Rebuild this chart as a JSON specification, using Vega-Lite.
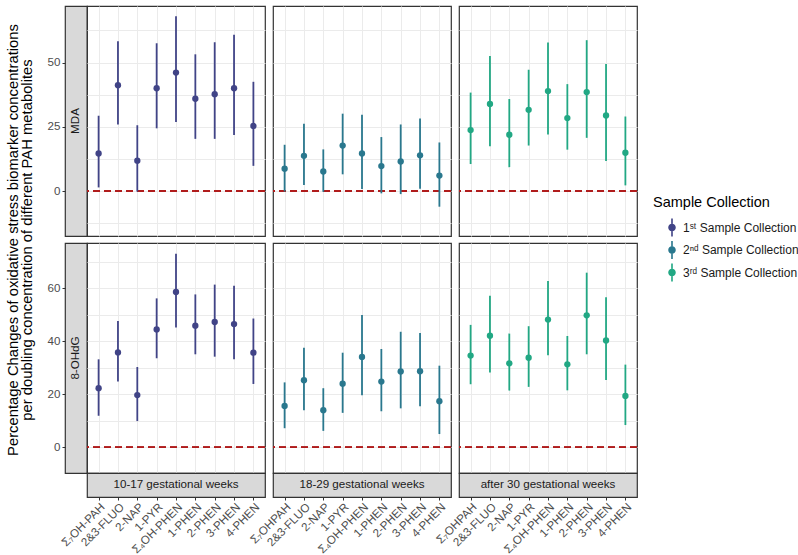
{
  "$schema": "https://vega.github.io/schema/vega-lite/v6.json",
  "padding": {"left": 4, "top": 5, "right": 5, "bottom": 5},
  "datasets": {
    "d": [
      {"biomarker": "MDA", "period": "10-17 gestational weeks", "collection": "1ˢᵗ Sample Collection", "metabolite": "Σ₇OH-PAH", "est": 14.6, "lo": 1.4, "hi": 29.3},
      {"biomarker": "MDA", "period": "10-17 gestational weeks", "collection": "1ˢᵗ Sample Collection", "metabolite": "2&3-FLUO", "est": 41.2, "lo": 25.9, "hi": 58.3},
      {"biomarker": "MDA", "period": "10-17 gestational weeks", "collection": "1ˢᵗ Sample Collection", "metabolite": "2-NAP", "est": 11.8, "lo": -0.2, "hi": 25.6},
      {"biomarker": "MDA", "period": "10-17 gestational weeks", "collection": "1ˢᵗ Sample Collection", "metabolite": "1-PYR", "est": 40.0, "lo": 24.4, "hi": 57.5},
      {"biomarker": "MDA", "period": "10-17 gestational weeks", "collection": "1ˢᵗ Sample Collection", "metabolite": "Σ₄OH-PHEN", "est": 46.1, "lo": 26.9, "hi": 68.0},
      {"biomarker": "MDA", "period": "10-17 gestational weeks", "collection": "1ˢᵗ Sample Collection", "metabolite": "1-PHEN", "est": 35.9, "lo": 20.3, "hi": 53.2},
      {"biomarker": "MDA", "period": "10-17 gestational weeks", "collection": "1ˢᵗ Sample Collection", "metabolite": "2-PHEN", "est": 37.7, "lo": 20.3, "hi": 57.9},
      {"biomarker": "MDA", "period": "10-17 gestational weeks", "collection": "1ˢᵗ Sample Collection", "metabolite": "3-PHEN", "est": 40.0, "lo": 21.8, "hi": 60.8},
      {"biomarker": "MDA", "period": "10-17 gestational weeks", "collection": "1ˢᵗ Sample Collection", "metabolite": "4-PHEN", "est": 25.3, "lo": 9.8, "hi": 42.5},

      {"biomarker": "MDA", "period": "18-29 gestational weeks", "collection": "2ⁿᵈ Sample Collection", "metabolite": "Σ₇OHPAH", "est": 8.7, "lo": -0.2, "hi": 18.0},
      {"biomarker": "MDA", "period": "18-29 gestational weeks", "collection": "2ⁿᵈ Sample Collection", "metabolite": "2&3-FLUO", "est": 13.7, "lo": 2.3, "hi": 26.2},
      {"biomarker": "MDA", "period": "18-29 gestational weeks", "collection": "2ⁿᵈ Sample Collection", "metabolite": "2-NAP", "est": 7.6, "lo": -0.3, "hi": 16.2},
      {"biomarker": "MDA", "period": "18-29 gestational weeks", "collection": "2ⁿᵈ Sample Collection", "metabolite": "1-PYR", "est": 17.7, "lo": 6.5, "hi": 30.1},
      {"biomarker": "MDA", "period": "18-29 gestational weeks", "collection": "2ⁿᵈ Sample Collection", "metabolite": "Σ₄OH-PHEN", "est": 14.6, "lo": 0.8, "hi": 29.7},
      {"biomarker": "MDA", "period": "18-29 gestational weeks", "collection": "2ⁿᵈ Sample Collection", "metabolite": "1-PHEN", "est": 9.7, "lo": -0.9, "hi": 21.0},
      {"biomarker": "MDA", "period": "18-29 gestational weeks", "collection": "2ⁿᵈ Sample Collection", "metabolite": "2-PHEN", "est": 11.5, "lo": -1.2, "hi": 25.9},
      {"biomarker": "MDA", "period": "18-29 gestational weeks", "collection": "2ⁿᵈ Sample Collection", "metabolite": "3-PHEN", "est": 13.9, "lo": 0.9, "hi": 28.2},
      {"biomarker": "MDA", "period": "18-29 gestational weeks", "collection": "2ⁿᵈ Sample Collection", "metabolite": "4-PHEN", "est": 6.0, "lo": -6.1, "hi": 18.9},

      {"biomarker": "MDA", "period": "after 30 gestational weeks", "collection": "3ʳᵈ Sample Collection", "metabolite": "Σ₇OHPAH", "est": 23.7, "lo": 10.5, "hi": 38.3},
      {"biomarker": "MDA", "period": "after 30 gestational weeks", "collection": "3ʳᵈ Sample Collection", "metabolite": "2&3-FLUO", "est": 33.9, "lo": 17.4, "hi": 52.5},
      {"biomarker": "MDA", "period": "after 30 gestational weeks", "collection": "3ʳᵈ Sample Collection", "metabolite": "2-NAP", "est": 21.9, "lo": 9.3, "hi": 35.8},
      {"biomarker": "MDA", "period": "after 30 gestational weeks", "collection": "3ʳᵈ Sample Collection", "metabolite": "1-PYR", "est": 31.6, "lo": 17.7, "hi": 47.2},
      {"biomarker": "MDA", "period": "after 30 gestational weeks", "collection": "3ʳᵈ Sample Collection", "metabolite": "Σ₄OH-PHEN", "est": 38.9, "lo": 22.0, "hi": 57.8},
      {"biomarker": "MDA", "period": "after 30 gestational weeks", "collection": "3ʳᵈ Sample Collection", "metabolite": "1-PHEN", "est": 28.4, "lo": 16.1, "hi": 41.6},
      {"biomarker": "MDA", "period": "after 30 gestational weeks", "collection": "3ʳᵈ Sample Collection", "metabolite": "2-PHEN", "est": 38.5, "lo": 20.7, "hi": 58.7},
      {"biomarker": "MDA", "period": "after 30 gestational weeks", "collection": "3ʳᵈ Sample Collection", "metabolite": "3-PHEN", "est": 29.4, "lo": 11.7, "hi": 49.4},
      {"biomarker": "MDA", "period": "after 30 gestational weeks", "collection": "3ʳᵈ Sample Collection", "metabolite": "4-PHEN", "est": 14.9, "lo": 2.2, "hi": 29.0},

      {"biomarker": "8-OHdG", "period": "10-17 gestational weeks", "collection": "1ˢᵗ Sample Collection", "metabolite": "Σ₇OH-PAH", "est": 22.3, "lo": 11.9, "hi": 33.2},
      {"biomarker": "8-OHdG", "period": "10-17 gestational weeks", "collection": "1ˢᵗ Sample Collection", "metabolite": "2&3-FLUO", "est": 35.8, "lo": 24.8, "hi": 47.7},
      {"biomarker": "8-OHdG", "period": "10-17 gestational weeks", "collection": "1ˢᵗ Sample Collection", "metabolite": "2-NAP", "est": 19.7, "lo": 9.9, "hi": 30.3},
      {"biomarker": "8-OHdG", "period": "10-17 gestational weeks", "collection": "1ˢᵗ Sample Collection", "metabolite": "1-PYR", "est": 44.5, "lo": 33.6, "hi": 56.2},
      {"biomarker": "8-OHdG", "period": "10-17 gestational weeks", "collection": "1ˢᵗ Sample Collection", "metabolite": "Σ₄OH-PHEN", "est": 58.6, "lo": 45.2, "hi": 73.0},
      {"biomarker": "8-OHdG", "period": "10-17 gestational weeks", "collection": "1ˢᵗ Sample Collection", "metabolite": "1-PHEN", "est": 45.9, "lo": 35.1, "hi": 57.7},
      {"biomarker": "8-OHdG", "period": "10-17 gestational weeks", "collection": "1ˢᵗ Sample Collection", "metabolite": "2-PHEN", "est": 47.3, "lo": 34.2, "hi": 61.4},
      {"biomarker": "8-OHdG", "period": "10-17 gestational weeks", "collection": "1ˢᵗ Sample Collection", "metabolite": "3-PHEN", "est": 46.5, "lo": 33.2, "hi": 61.0},
      {"biomarker": "8-OHdG", "period": "10-17 gestational weeks", "collection": "1ˢᵗ Sample Collection", "metabolite": "4-PHEN", "est": 35.7, "lo": 23.9, "hi": 48.6},

      {"biomarker": "8-OHdG", "period": "18-29 gestational weeks", "collection": "2ⁿᵈ Sample Collection", "metabolite": "Σ₇OHPAH", "est": 15.6, "lo": 7.2, "hi": 24.5},
      {"biomarker": "8-OHdG", "period": "18-29 gestational weeks", "collection": "2ⁿᵈ Sample Collection", "metabolite": "2&3-FLUO", "est": 25.3, "lo": 14.0, "hi": 37.6},
      {"biomarker": "8-OHdG", "period": "18-29 gestational weeks", "collection": "2ⁿᵈ Sample Collection", "metabolite": "2-NAP", "est": 14.0, "lo": 6.2, "hi": 22.3},
      {"biomarker": "8-OHdG", "period": "18-29 gestational weeks", "collection": "2ⁿᵈ Sample Collection", "metabolite": "1-PYR", "est": 24.0, "lo": 13.0, "hi": 35.7},
      {"biomarker": "8-OHdG", "period": "18-29 gestational weeks", "collection": "2ⁿᵈ Sample Collection", "metabolite": "Σ₄OH-PHEN", "est": 34.1, "lo": 19.6, "hi": 49.9},
      {"biomarker": "8-OHdG", "period": "18-29 gestational weeks", "collection": "2ⁿᵈ Sample Collection", "metabolite": "1-PHEN", "est": 24.8, "lo": 13.6, "hi": 37.1},
      {"biomarker": "8-OHdG", "period": "18-29 gestational weeks", "collection": "2ⁿᵈ Sample Collection", "metabolite": "2-PHEN", "est": 28.6, "lo": 14.7, "hi": 43.6},
      {"biomarker": "8-OHdG", "period": "18-29 gestational weeks", "collection": "2ⁿᵈ Sample Collection", "metabolite": "3-PHEN", "est": 28.7, "lo": 15.5, "hi": 43.1},
      {"biomarker": "8-OHdG", "period": "18-29 gestational weeks", "collection": "2ⁿᵈ Sample Collection", "metabolite": "4-PHEN", "est": 17.4, "lo": 5.0, "hi": 30.8},

      {"biomarker": "8-OHdG", "period": "after 30 gestational weeks", "collection": "3ʳᵈ Sample Collection", "metabolite": "Σ₇OHPAH", "est": 34.6, "lo": 23.8, "hi": 46.2},
      {"biomarker": "8-OHdG", "period": "after 30 gestational weeks", "collection": "3ʳᵈ Sample Collection", "metabolite": "2&3-FLUO", "est": 42.1, "lo": 28.2, "hi": 57.2},
      {"biomarker": "8-OHdG", "period": "after 30 gestational weeks", "collection": "3ʳᵈ Sample Collection", "metabolite": "2-NAP", "est": 31.7, "lo": 21.4, "hi": 42.9},
      {"biomarker": "8-OHdG", "period": "after 30 gestational weeks", "collection": "3ʳᵈ Sample Collection", "metabolite": "1-PYR", "est": 33.8, "lo": 22.8, "hi": 45.7},
      {"biomarker": "8-OHdG", "period": "after 30 gestational weeks", "collection": "3ʳᵈ Sample Collection", "metabolite": "Σ₄OH-PHEN", "est": 48.2, "lo": 34.7, "hi": 62.8},
      {"biomarker": "8-OHdG", "period": "after 30 gestational weeks", "collection": "3ʳᵈ Sample Collection", "metabolite": "1-PHEN", "est": 31.3, "lo": 21.5, "hi": 42.0},
      {"biomarker": "8-OHdG", "period": "after 30 gestational weeks", "collection": "3ʳᵈ Sample Collection", "metabolite": "2-PHEN", "est": 49.8, "lo": 35.1, "hi": 65.9},
      {"biomarker": "8-OHdG", "period": "after 30 gestational weeks", "collection": "3ʳᵈ Sample Collection", "metabolite": "3-PHEN", "est": 40.3, "lo": 25.4, "hi": 56.6},
      {"biomarker": "8-OHdG", "period": "after 30 gestational weeks", "collection": "3ʳᵈ Sample Collection", "metabolite": "4-PHEN", "est": 19.4, "lo": 8.4, "hi": 31.2}
    ]
  },
  "data": {"name": "d"},
  "columns": 6,
  "spacing": {"row": 0, "column": 0},
  "bounds": "flush",
  "align": "each",
  "resolve": {"scale": {"x": "independent", "y": "independent", "color": "shared"}, "axis": {"x": "independent", "y": "independent"}, "legend": {"color": "shared"}},
  "concat": [
    {
      "width": 22, "height": 230,
      "view": {"fill": "#d9d9d9", "stroke": "#333333", "strokeWidth": 1.2},
      "layer": [
        {"transform": [{"filter": "datum.biomarker === 'MDA'"}],
         "mark": {"type": "point", "opacity": 0},
         "encoding": {"y": {"field": "est", "type": "quantitative", "scale": {"domain": [-17.5, 72], "nice": false, "zero": false},
           "axis": {"values": [0, 25, 50], "grid": false, "domain": false, "ticks": true, "labelPadding": 2,
             "title": "Percentage Changes of oxidative stress biomarker concentrations",
             "titleX": -52, "titleY": 233.5, "titleAngle": 270, "titleAlign": "center", "titleBaseline": "middle"}}}},
        {"data": {"values": [{"biomarker": "MDA"}]},
         "mark": {"type": "text", "angle": 270, "fontSize": 11.6, "color": "#1a1a1a"},
         "encoding": {"text": {"field": "biomarker"}}}
      ]
    },
    {
      "width": 178, "height": 230,
      "transform": [{"filter": "datum.biomarker === 'MDA' && datum.period === '10-17 gestational weeks'"}],
      "layer": [
        {"mark": {"type": "rule", "color": "#b01c1c", "strokeDash": [7, 4], "strokeWidth": 1.2},
         "encoding": {"y": {"datum": 0, "type": "quantitative", "scale": {"domain": [-17.5, 72], "nice": false, "zero": false}, "axis": {"values": [-12.5, 0, 12.5, 25, 37.5, 50, 62.5], "grid": true, "labels": false, "ticks": false, "domain": false, "title": null}}}},
        {"mark": {"type": "point", "filled": true, "size": 40, "opacity": 1},
         "encoding": {
           "x": {"field": "metabolite", "type": "nominal", "scale": {"type": "point", "padding": 0.6, "domain": ["Σ₇OH-PAH", "2&3-FLUO", "2-NAP", "1-PYR", "Σ₄OH-PHEN", "1-PHEN", "2-PHEN", "3-PHEN", "4-PHEN"]}, "axis": {"grid": true, "labels": false, "ticks": false, "domain": false, "title": null}},
           "y": {"field": "est", "type": "quantitative", "scale": {"domain": [-17.5, 72], "nice": false, "zero": false}, "axis": {"values": [-12.5, 0, 12.5, 25, 37.5, 50, 62.5], "grid": true, "labels": false, "ticks": false, "domain": false, "title": null}},
           "color": {"field": "collection", "type": "nominal", "scale": {"domain": ["1ˢᵗ Sample Collection", "2ⁿᵈ Sample Collection", "3ʳᵈ Sample Collection"], "range": ["#414487", "#2a788e", "#22a884"]},
             "legend": {"orient": "none", "legendX": 588, "legendY": 190, "title": "Sample Collection", "symbolType": "M-0.42,0A0.42,0.42 0 1,0 0.42,0A0.42,0.42 0 1,0 -0.42,0Z M-0.09,-1H0.09V-0.42H-0.09Z M-0.09,0.42H0.09V1H-0.09Z", "symbolSize": 324, "symbolStrokeWidth": 0, "symbolOffset": 10, "labelOffset": 2, "rowPadding": 4.5, "titlePadding": 8}}}},
        {"mark": {"type": "rule", "strokeWidth": 1.8},
         "encoding": {
           "x": {"field": "metabolite", "type": "nominal", "scale": {"type": "point", "padding": 0.6, "domain": ["Σ₇OH-PAH", "2&3-FLUO", "2-NAP", "1-PYR", "Σ₄OH-PHEN", "1-PHEN", "2-PHEN", "3-PHEN", "4-PHEN"]}, "axis": {"grid": true, "labels": false, "ticks": false, "domain": false, "title": null}},
           "y": {"field": "lo", "type": "quantitative", "scale": {"domain": [-17.5, 72], "nice": false, "zero": false}, "axis": {"values": [-12.5, 0, 12.5, 25, 37.5, 50, 62.5], "grid": true, "labels": false, "ticks": false, "domain": false, "title": null}},
           "y2": {"field": "hi"},
           "color": {"field": "collection", "type": "nominal", "scale": {"domain": ["1ˢᵗ Sample Collection", "2ⁿᵈ Sample Collection", "3ʳᵈ Sample Collection"], "range": ["#414487", "#2a788e", "#22a884"]},
             "legend": {"orient": "none", "legendX": 588, "legendY": 190, "title": "Sample Collection", "symbolType": "M-0.42,0A0.42,0.42 0 1,0 0.42,0A0.42,0.42 0 1,0 -0.42,0Z M-0.09,-1H0.09V-0.42H-0.09Z M-0.09,0.42H0.09V1H-0.09Z", "symbolSize": 324, "symbolStrokeWidth": 0, "symbolOffset": 10, "labelOffset": 2, "rowPadding": 4.5, "titlePadding": 8}}}}
      ]
    },
    {"width": 8, "height": 1, "data": {"values": []}, "mark": "point", "view": {"stroke": null}},
    {
      "width": 178, "height": 230,
      "transform": [{"filter": "datum.biomarker === 'MDA' && datum.period === '18-29 gestational weeks'"}],
      "layer": [
        {"mark": {"type": "rule", "color": "#b01c1c", "strokeDash": [7, 4], "strokeWidth": 1.2},
         "encoding": {"y": {"datum": 0, "type": "quantitative", "scale": {"domain": [-17.5, 72], "nice": false, "zero": false}, "axis": {"values": [-12.5, 0, 12.5, 25, 37.5, 50, 62.5], "grid": true, "labels": false, "ticks": false, "domain": false, "title": null}}}},
        {"mark": {"type": "point", "filled": true, "size": 40, "opacity": 1},
         "encoding": {
           "x": {"field": "metabolite", "type": "nominal", "scale": {"type": "point", "padding": 0.6, "domain": ["Σ₇OHPAH", "2&3-FLUO", "2-NAP", "1-PYR", "Σ₄OH-PHEN", "1-PHEN", "2-PHEN", "3-PHEN", "4-PHEN"]}, "axis": {"grid": true, "labels": false, "ticks": false, "domain": false, "title": null}},
           "y": {"field": "est", "type": "quantitative", "scale": {"domain": [-17.5, 72], "nice": false, "zero": false}, "axis": {"values": [-12.5, 0, 12.5, 25, 37.5, 50, 62.5], "grid": true, "labels": false, "ticks": false, "domain": false, "title": null}},
           "color": {"field": "collection", "type": "nominal", "scale": {"domain": ["1ˢᵗ Sample Collection", "2ⁿᵈ Sample Collection", "3ʳᵈ Sample Collection"], "range": ["#414487", "#2a788e", "#22a884"]},
             "legend": {"orient": "none", "legendX": 588, "legendY": 190, "title": "Sample Collection", "symbolType": "M-0.42,0A0.42,0.42 0 1,0 0.42,0A0.42,0.42 0 1,0 -0.42,0Z M-0.09,-1H0.09V-0.42H-0.09Z M-0.09,0.42H0.09V1H-0.09Z", "symbolSize": 324, "symbolStrokeWidth": 0, "symbolOffset": 10, "labelOffset": 2, "rowPadding": 4.5, "titlePadding": 8}}}},
        {"mark": {"type": "rule", "strokeWidth": 1.8},
         "encoding": {
           "x": {"field": "metabolite", "type": "nominal", "scale": {"type": "point", "padding": 0.6, "domain": ["Σ₇OHPAH", "2&3-FLUO", "2-NAP", "1-PYR", "Σ₄OH-PHEN", "1-PHEN", "2-PHEN", "3-PHEN", "4-PHEN"]}, "axis": {"grid": true, "labels": false, "ticks": false, "domain": false, "title": null}},
           "y": {"field": "lo", "type": "quantitative", "scale": {"domain": [-17.5, 72], "nice": false, "zero": false}, "axis": {"values": [-12.5, 0, 12.5, 25, 37.5, 50, 62.5], "grid": true, "labels": false, "ticks": false, "domain": false, "title": null}},
           "y2": {"field": "hi"},
           "color": {"field": "collection", "type": "nominal", "scale": {"domain": ["1ˢᵗ Sample Collection", "2ⁿᵈ Sample Collection", "3ʳᵈ Sample Collection"], "range": ["#414487", "#2a788e", "#22a884"]},
             "legend": {"orient": "none", "legendX": 588, "legendY": 190, "title": "Sample Collection", "symbolType": "M-0.42,0A0.42,0.42 0 1,0 0.42,0A0.42,0.42 0 1,0 -0.42,0Z M-0.09,-1H0.09V-0.42H-0.09Z M-0.09,0.42H0.09V1H-0.09Z", "symbolSize": 324, "symbolStrokeWidth": 0, "symbolOffset": 10, "labelOffset": 2, "rowPadding": 4.5, "titlePadding": 8}}}}
      ]
    },
    {"width": 8, "height": 1, "data": {"values": []}, "mark": "point", "view": {"stroke": null}},
    {
      "width": 178, "height": 230,
      "transform": [{"filter": "datum.biomarker === 'MDA' && datum.period === 'after 30 gestational weeks'"}],
      "layer": [
        {"mark": {"type": "rule", "color": "#b01c1c", "strokeDash": [7, 4], "strokeWidth": 1.2},
         "encoding": {"y": {"datum": 0, "type": "quantitative", "scale": {"domain": [-17.5, 72], "nice": false, "zero": false}, "axis": {"values": [-12.5, 0, 12.5, 25, 37.5, 50, 62.5], "grid": true, "labels": false, "ticks": false, "domain": false, "title": null}}}},
        {"mark": {"type": "point", "filled": true, "size": 40, "opacity": 1},
         "encoding": {
           "x": {"field": "metabolite", "type": "nominal", "scale": {"type": "point", "padding": 0.6, "domain": ["Σ₇OHPAH", "2&3-FLUO", "2-NAP", "1-PYR", "Σ₄OH-PHEN", "1-PHEN", "2-PHEN", "3-PHEN", "4-PHEN"]}, "axis": {"grid": true, "labels": false, "ticks": false, "domain": false, "title": null}},
           "y": {"field": "est", "type": "quantitative", "scale": {"domain": [-17.5, 72], "nice": false, "zero": false}, "axis": {"values": [-12.5, 0, 12.5, 25, 37.5, 50, 62.5], "grid": true, "labels": false, "ticks": false, "domain": false, "title": null}},
           "color": {"field": "collection", "type": "nominal", "scale": {"domain": ["1ˢᵗ Sample Collection", "2ⁿᵈ Sample Collection", "3ʳᵈ Sample Collection"], "range": ["#414487", "#2a788e", "#22a884"]},
             "legend": {"orient": "none", "legendX": 588, "legendY": 190, "title": "Sample Collection", "symbolType": "M-0.42,0A0.42,0.42 0 1,0 0.42,0A0.42,0.42 0 1,0 -0.42,0Z M-0.09,-1H0.09V-0.42H-0.09Z M-0.09,0.42H0.09V1H-0.09Z", "symbolSize": 324, "symbolStrokeWidth": 0, "symbolOffset": 10, "labelOffset": 2, "rowPadding": 4.5, "titlePadding": 8}}}},
        {"mark": {"type": "rule", "strokeWidth": 1.8},
         "encoding": {
           "x": {"field": "metabolite", "type": "nominal", "scale": {"type": "point", "padding": 0.6, "domain": ["Σ₇OHPAH", "2&3-FLUO", "2-NAP", "1-PYR", "Σ₄OH-PHEN", "1-PHEN", "2-PHEN", "3-PHEN", "4-PHEN"]}, "axis": {"grid": true, "labels": false, "ticks": false, "domain": false, "title": null}},
           "y": {"field": "lo", "type": "quantitative", "scale": {"domain": [-17.5, 72], "nice": false, "zero": false}, "axis": {"values": [-12.5, 0, 12.5, 25, 37.5, 50, 62.5], "grid": true, "labels": false, "ticks": false, "domain": false, "title": null}},
           "y2": {"field": "hi"},
           "color": {"field": "collection", "type": "nominal", "scale": {"domain": ["1ˢᵗ Sample Collection", "2ⁿᵈ Sample Collection", "3ʳᵈ Sample Collection"], "range": ["#414487", "#2a788e", "#22a884"]},
             "legend": {"orient": "none", "legendX": 588, "legendY": 190, "title": "Sample Collection", "symbolType": "M-0.42,0A0.42,0.42 0 1,0 0.42,0A0.42,0.42 0 1,0 -0.42,0Z M-0.09,-1H0.09V-0.42H-0.09Z M-0.09,0.42H0.09V1H-0.09Z", "symbolSize": 324, "symbolStrokeWidth": 0, "symbolOffset": 10, "labelOffset": 2, "rowPadding": 4.5, "titlePadding": 8}}}}
      ]
    },

    {"width": 1, "height": 7, "data": {"values": []}, "mark": "point", "view": {"stroke": null}},
    {"width": 1, "height": 7, "data": {"values": []}, "mark": "point", "view": {"stroke": null}},
    {"width": 1, "height": 7, "data": {"values": []}, "mark": "point", "view": {"stroke": null}},
    {"width": 1, "height": 7, "data": {"values": []}, "mark": "point", "view": {"stroke": null}},
    {"width": 1, "height": 7, "data": {"values": []}, "mark": "point", "view": {"stroke": null}},
    {"width": 1, "height": 7, "data": {"values": []}, "mark": "point", "view": {"stroke": null}},

    {
      "width": 22, "height": 230,
      "view": {"fill": "#d9d9d9", "stroke": "#333333", "strokeWidth": 1.2},
      "layer": [
        {"transform": [{"filter": "datum.biomarker === '8-OHdG'"}],
         "mark": {"type": "point", "opacity": 0},
         "encoding": {"y": {"field": "est", "type": "quantitative", "scale": {"domain": [-9.7, 77.1], "nice": false, "zero": false},
           "axis": {"values": [0, 20, 40, 60], "grid": false, "domain": false, "ticks": true, "labelPadding": 2,
             "title": "per doubling concentration of different PAH metabolites",
             "titleX": -38, "titleY": -3.5, "titleAngle": 270, "titleAlign": "center", "titleBaseline": "middle"}}}},
        {"data": {"values": [{"biomarker": "8-OHdG"}]},
         "mark": {"type": "text", "angle": 270, "fontSize": 11.6, "color": "#1a1a1a"},
         "encoding": {"text": {"field": "biomarker"}}}
      ]
    },
    {
      "width": 178, "height": 230,
      "transform": [{"filter": "datum.biomarker === '8-OHdG' && datum.period === '10-17 gestational weeks'"}],
      "layer": [
        {"mark": {"type": "rule", "color": "#b01c1c", "strokeDash": [7, 4], "strokeWidth": 1.2},
         "encoding": {"y": {"datum": 0, "type": "quantitative", "scale": {"domain": [-9.7, 77.1], "nice": false, "zero": false}, "axis": {"values": [0, 10, 20, 30, 40, 50, 60, 70], "grid": true, "labels": false, "ticks": false, "domain": false, "title": null}}}},
        {"mark": {"type": "point", "filled": true, "size": 40, "opacity": 1},
         "encoding": {
           "x": {"field": "metabolite", "type": "nominal", "scale": {"type": "point", "padding": 0.6, "domain": ["Σ₇OH-PAH", "2&3-FLUO", "2-NAP", "1-PYR", "Σ₄OH-PHEN", "1-PHEN", "2-PHEN", "3-PHEN", "4-PHEN"]}, "axis": {"grid": true, "labels": false, "ticks": false, "domain": false, "title": null}},
           "y": {"field": "est", "type": "quantitative", "scale": {"domain": [-9.7, 77.1], "nice": false, "zero": false}, "axis": {"values": [0, 10, 20, 30, 40, 50, 60, 70], "grid": true, "labels": false, "ticks": false, "domain": false, "title": null}},
           "color": {"field": "collection", "type": "nominal", "scale": {"domain": ["1ˢᵗ Sample Collection", "2ⁿᵈ Sample Collection", "3ʳᵈ Sample Collection"], "range": ["#414487", "#2a788e", "#22a884"]},
             "legend": {"orient": "none", "legendX": 588, "legendY": 190, "title": "Sample Collection", "symbolType": "M-0.42,0A0.42,0.42 0 1,0 0.42,0A0.42,0.42 0 1,0 -0.42,0Z M-0.09,-1H0.09V-0.42H-0.09Z M-0.09,0.42H0.09V1H-0.09Z", "symbolSize": 324, "symbolStrokeWidth": 0, "symbolOffset": 10, "labelOffset": 2, "rowPadding": 4.5, "titlePadding": 8}}}},
        {"mark": {"type": "rule", "strokeWidth": 1.8},
         "encoding": {
           "x": {"field": "metabolite", "type": "nominal", "scale": {"type": "point", "padding": 0.6, "domain": ["Σ₇OH-PAH", "2&3-FLUO", "2-NAP", "1-PYR", "Σ₄OH-PHEN", "1-PHEN", "2-PHEN", "3-PHEN", "4-PHEN"]}, "axis": {"grid": true, "labels": false, "ticks": false, "domain": false, "title": null}},
           "y": {"field": "lo", "type": "quantitative", "scale": {"domain": [-9.7, 77.1], "nice": false, "zero": false}, "axis": {"values": [0, 10, 20, 30, 40, 50, 60, 70], "grid": true, "labels": false, "ticks": false, "domain": false, "title": null}},
           "y2": {"field": "hi"},
           "color": {"field": "collection", "type": "nominal", "scale": {"domain": ["1ˢᵗ Sample Collection", "2ⁿᵈ Sample Collection", "3ʳᵈ Sample Collection"], "range": ["#414487", "#2a788e", "#22a884"]},
             "legend": {"orient": "none", "legendX": 588, "legendY": 190, "title": "Sample Collection", "symbolType": "M-0.42,0A0.42,0.42 0 1,0 0.42,0A0.42,0.42 0 1,0 -0.42,0Z M-0.09,-1H0.09V-0.42H-0.09Z M-0.09,0.42H0.09V1H-0.09Z", "symbolSize": 324, "symbolStrokeWidth": 0, "symbolOffset": 10, "labelOffset": 2, "rowPadding": 4.5, "titlePadding": 8}}}}
      ]
    },
    {"width": 8, "height": 1, "data": {"values": []}, "mark": "point", "view": {"stroke": null}},
    {
      "width": 178, "height": 230,
      "transform": [{"filter": "datum.biomarker === '8-OHdG' && datum.period === '18-29 gestational weeks'"}],
      "layer": [
        {"mark": {"type": "rule", "color": "#b01c1c", "strokeDash": [7, 4], "strokeWidth": 1.2},
         "encoding": {"y": {"datum": 0, "type": "quantitative", "scale": {"domain": [-9.7, 77.1], "nice": false, "zero": false}, "axis": {"values": [0, 10, 20, 30, 40, 50, 60, 70], "grid": true, "labels": false, "ticks": false, "domain": false, "title": null}}}},
        {"mark": {"type": "point", "filled": true, "size": 40, "opacity": 1},
         "encoding": {
           "x": {"field": "metabolite", "type": "nominal", "scale": {"type": "point", "padding": 0.6, "domain": ["Σ₇OHPAH", "2&3-FLUO", "2-NAP", "1-PYR", "Σ₄OH-PHEN", "1-PHEN", "2-PHEN", "3-PHEN", "4-PHEN"]}, "axis": {"grid": true, "labels": false, "ticks": false, "domain": false, "title": null}},
           "y": {"field": "est", "type": "quantitative", "scale": {"domain": [-9.7, 77.1], "nice": false, "zero": false}, "axis": {"values": [0, 10, 20, 30, 40, 50, 60, 70], "grid": true, "labels": false, "ticks": false, "domain": false, "title": null}},
           "color": {"field": "collection", "type": "nominal", "scale": {"domain": ["1ˢᵗ Sample Collection", "2ⁿᵈ Sample Collection", "3ʳᵈ Sample Collection"], "range": ["#414487", "#2a788e", "#22a884"]},
             "legend": {"orient": "none", "legendX": 588, "legendY": 190, "title": "Sample Collection", "symbolType": "M-0.42,0A0.42,0.42 0 1,0 0.42,0A0.42,0.42 0 1,0 -0.42,0Z M-0.09,-1H0.09V-0.42H-0.09Z M-0.09,0.42H0.09V1H-0.09Z", "symbolSize": 324, "symbolStrokeWidth": 0, "symbolOffset": 10, "labelOffset": 2, "rowPadding": 4.5, "titlePadding": 8}}}},
        {"mark": {"type": "rule", "strokeWidth": 1.8},
         "encoding": {
           "x": {"field": "metabolite", "type": "nominal", "scale": {"type": "point", "padding": 0.6, "domain": ["Σ₇OHPAH", "2&3-FLUO", "2-NAP", "1-PYR", "Σ₄OH-PHEN", "1-PHEN", "2-PHEN", "3-PHEN", "4-PHEN"]}, "axis": {"grid": true, "labels": false, "ticks": false, "domain": false, "title": null}},
           "y": {"field": "lo", "type": "quantitative", "scale": {"domain": [-9.7, 77.1], "nice": false, "zero": false}, "axis": {"values": [0, 10, 20, 30, 40, 50, 60, 70], "grid": true, "labels": false, "ticks": false, "domain": false, "title": null}},
           "y2": {"field": "hi"},
           "color": {"field": "collection", "type": "nominal", "scale": {"domain": ["1ˢᵗ Sample Collection", "2ⁿᵈ Sample Collection", "3ʳᵈ Sample Collection"], "range": ["#414487", "#2a788e", "#22a884"]},
             "legend": {"orient": "none", "legendX": 588, "legendY": 190, "title": "Sample Collection", "symbolType": "M-0.42,0A0.42,0.42 0 1,0 0.42,0A0.42,0.42 0 1,0 -0.42,0Z M-0.09,-1H0.09V-0.42H-0.09Z M-0.09,0.42H0.09V1H-0.09Z", "symbolSize": 324, "symbolStrokeWidth": 0, "symbolOffset": 10, "labelOffset": 2, "rowPadding": 4.5, "titlePadding": 8}}}}
      ]
    },
    {"width": 8, "height": 1, "data": {"values": []}, "mark": "point", "view": {"stroke": null}},
    {
      "width": 178, "height": 230,
      "transform": [{"filter": "datum.biomarker === '8-OHdG' && datum.period === 'after 30 gestational weeks'"}],
      "layer": [
        {"mark": {"type": "rule", "color": "#b01c1c", "strokeDash": [7, 4], "strokeWidth": 1.2},
         "encoding": {"y": {"datum": 0, "type": "quantitative", "scale": {"domain": [-9.7, 77.1], "nice": false, "zero": false}, "axis": {"values": [0, 10, 20, 30, 40, 50, 60, 70], "grid": true, "labels": false, "ticks": false, "domain": false, "title": null}}}},
        {"mark": {"type": "point", "filled": true, "size": 40, "opacity": 1},
         "encoding": {
           "x": {"field": "metabolite", "type": "nominal", "scale": {"type": "point", "padding": 0.6, "domain": ["Σ₇OHPAH", "2&3-FLUO", "2-NAP", "1-PYR", "Σ₄OH-PHEN", "1-PHEN", "2-PHEN", "3-PHEN", "4-PHEN"]}, "axis": {"grid": true, "labels": false, "ticks": false, "domain": false, "title": null}},
           "y": {"field": "est", "type": "quantitative", "scale": {"domain": [-9.7, 77.1], "nice": false, "zero": false}, "axis": {"values": [0, 10, 20, 30, 40, 50, 60, 70], "grid": true, "labels": false, "ticks": false, "domain": false, "title": null}},
           "color": {"field": "collection", "type": "nominal", "scale": {"domain": ["1ˢᵗ Sample Collection", "2ⁿᵈ Sample Collection", "3ʳᵈ Sample Collection"], "range": ["#414487", "#2a788e", "#22a884"]},
             "legend": {"orient": "none", "legendX": 588, "legendY": 190, "title": "Sample Collection", "symbolType": "M-0.42,0A0.42,0.42 0 1,0 0.42,0A0.42,0.42 0 1,0 -0.42,0Z M-0.09,-1H0.09V-0.42H-0.09Z M-0.09,0.42H0.09V1H-0.09Z", "symbolSize": 324, "symbolStrokeWidth": 0, "symbolOffset": 10, "labelOffset": 2, "rowPadding": 4.5, "titlePadding": 8}}}},
        {"mark": {"type": "rule", "strokeWidth": 1.8},
         "encoding": {
           "x": {"field": "metabolite", "type": "nominal", "scale": {"type": "point", "padding": 0.6, "domain": ["Σ₇OHPAH", "2&3-FLUO", "2-NAP", "1-PYR", "Σ₄OH-PHEN", "1-PHEN", "2-PHEN", "3-PHEN", "4-PHEN"]}, "axis": {"grid": true, "labels": false, "ticks": false, "domain": false, "title": null}},
           "y": {"field": "lo", "type": "quantitative", "scale": {"domain": [-9.7, 77.1], "nice": false, "zero": false}, "axis": {"values": [0, 10, 20, 30, 40, 50, 60, 70], "grid": true, "labels": false, "ticks": false, "domain": false, "title": null}},
           "y2": {"field": "hi"},
           "color": {"field": "collection", "type": "nominal", "scale": {"domain": ["1ˢᵗ Sample Collection", "2ⁿᵈ Sample Collection", "3ʳᵈ Sample Collection"], "range": ["#414487", "#2a788e", "#22a884"]},
             "legend": {"orient": "none", "legendX": 588, "legendY": 190, "title": "Sample Collection", "symbolType": "M-0.42,0A0.42,0.42 0 1,0 0.42,0A0.42,0.42 0 1,0 -0.42,0Z M-0.09,-1H0.09V-0.42H-0.09Z M-0.09,0.42H0.09V1H-0.09Z", "symbolSize": 324, "symbolStrokeWidth": 0, "symbolOffset": 10, "labelOffset": 2, "rowPadding": 4.5, "titlePadding": 8}}}}
      ]
    },

    {"width": 1, "height": 1, "data": {"values": []}, "mark": "point", "view": {"stroke": null}},
    {
      "width": 178, "height": 24,
      "view": {"fill": "#d9d9d9", "stroke": "#333333", "strokeWidth": 1.2},
      "layer": [
        {"transform": [{"filter": "datum.period === '10-17 gestational weeks' && datum.biomarker === 'MDA'"}],
         "mark": {"type": "point", "opacity": 0},
         "encoding": {"x": {"field": "metabolite", "type": "nominal", "scale": {"type": "point", "padding": 0.6, "domain": ["Σ₇OH-PAH", "2&3-FLUO", "2-NAP", "1-PYR", "Σ₄OH-PHEN", "1-PHEN", "2-PHEN", "3-PHEN", "4-PHEN"]},
           "axis": {"labelAngle": -45, "labelAlign": "right", "labelBaseline": "top", "ticks": true, "domain": false, "grid": false, "title": null, "labelPadding": 1}}}},
        {"data": {"values": [{"period": "10-17 gestational weeks"}]},
         "mark": {"type": "text", "fontSize": 11.6, "color": "#1a1a1a"},
         "encoding": {"text": {"field": "period"}}}
      ]
    },
    {"width": 8, "height": 1, "data": {"values": []}, "mark": "point", "view": {"stroke": null}},
    {
      "width": 178, "height": 24,
      "view": {"fill": "#d9d9d9", "stroke": "#333333", "strokeWidth": 1.2},
      "layer": [
        {"transform": [{"filter": "datum.period === '18-29 gestational weeks' && datum.biomarker === 'MDA'"}],
         "mark": {"type": "point", "opacity": 0},
         "encoding": {"x": {"field": "metabolite", "type": "nominal", "scale": {"type": "point", "padding": 0.6, "domain": ["Σ₇OHPAH", "2&3-FLUO", "2-NAP", "1-PYR", "Σ₄OH-PHEN", "1-PHEN", "2-PHEN", "3-PHEN", "4-PHEN"]},
           "axis": {"labelAngle": -45, "labelAlign": "right", "labelBaseline": "top", "ticks": true, "domain": false, "grid": false, "title": null, "labelPadding": 1}}}},
        {"data": {"values": [{"period": "18-29 gestational weeks"}]},
         "mark": {"type": "text", "fontSize": 11.6, "color": "#1a1a1a"},
         "encoding": {"text": {"field": "period"}}}
      ]
    },
    {"width": 8, "height": 1, "data": {"values": []}, "mark": "point", "view": {"stroke": null}},
    {
      "width": 178, "height": 24,
      "view": {"fill": "#d9d9d9", "stroke": "#333333", "strokeWidth": 1.2},
      "layer": [
        {"transform": [{"filter": "datum.period === 'after 30 gestational weeks' && datum.biomarker === 'MDA'"}],
         "mark": {"type": "point", "opacity": 0},
         "encoding": {"x": {"field": "metabolite", "type": "nominal", "scale": {"type": "point", "padding": 0.6, "domain": ["Σ₇OHPAH", "2&3-FLUO", "2-NAP", "1-PYR", "Σ₄OH-PHEN", "1-PHEN", "2-PHEN", "3-PHEN", "4-PHEN"]},
           "axis": {"labelAngle": -45, "labelAlign": "right", "labelBaseline": "top", "ticks": true, "domain": false, "grid": false, "title": null, "labelPadding": 1}}}},
        {"data": {"values": [{"period": "after 30 gestational weeks"}]},
         "mark": {"type": "text", "fontSize": 11.6, "color": "#1a1a1a"},
         "encoding": {"text": {"field": "period"}}}
      ]
    }
  ],
  "config": {
    "font": "Liberation Sans",
    "view": {"stroke": "#333333", "strokeWidth": 1.2},
    "text": {"font": "Liberation Sans"},
    "axis": {"labelFont": "Liberation Sans", "labelFontSize": 11.6, "labelColor": "#4d4d4d", "tickColor": "#333333", "tickSize": 3, "tickWidth": 1, "gridColor": "#ebebeb", "gridWidth": 1,
      "titleFont": "Liberation Sans", "titleFontSize": 14.8, "titleFontWeight": "normal", "titleColor": "#000000"},
    "legend": {"titleFont": "Liberation Sans", "titleFontSize": 14.5, "titleFontWeight": "normal", "titleColor": "#000000", "labelFont": "Liberation Sans", "labelFontSize": 12, "labelColor": "#1a1a1a"}
  }
}
